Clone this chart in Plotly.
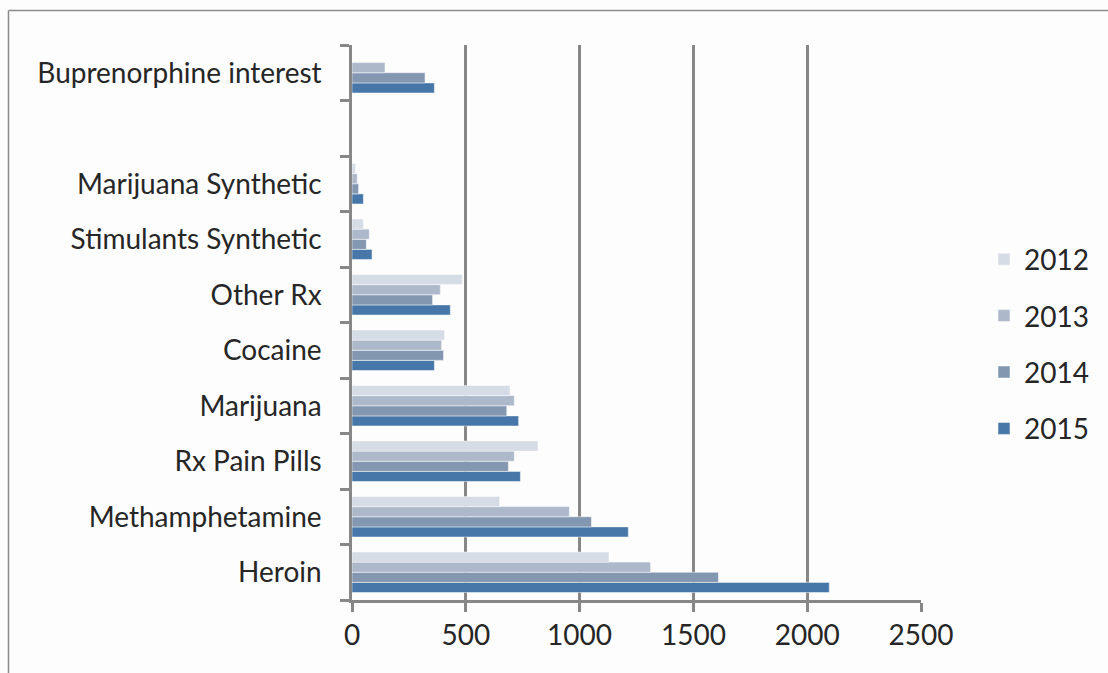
import plotly.graph_objects as go

# Drug categories, bottom to top; the blank entry keeps an empty slot
categories = ["Heroin", "Methamphetamine", "Rx Pain Pills", "Marijuana", "Cocaine",
              "Other Rx", "Stimulants Synthetic", "Marijuana Synthetic", " ",
              "Buprenorphine interest"]

v2012 = [1129, 649, 817, 694, 407, 485, 50, 15, None, 0]
v2013 = [1312, 955, 713, 713, 394, 388, 76, 23, None, 145]
v2014 = [1610, 1052, 687, 680, 402, 354, 63, 29, None, 321]
v2015 = [2097, 1214, 740, 732, 362, 432, 88, 50, None, 362]

years = ["2012", "2013", "2014", "2015"]
colors = {"2012": "#D6DCE5", "2013": "#ADB9CA", "2014": "#8497B0", "2015": "#4677A8"}
series = {"2012": v2012, "2013": v2013, "2014": v2014, "2015": v2015}

x_ticks = [0, 500, 1000, 1500, 2000, 2500]

FONT = "Lato"
FSIZE = 28
TEXT = "#262626"
GRID = "#878787"

fig = go.Figure()
# 2015 first so it sits at the bottom of each group; legendrank keeps 2012 on top of the legend
for yr in reversed(years):
    fig.add_trace(go.Bar(
        y=categories, x=series[yr], name=yr, orientation="h",
        marker=dict(color=colors[yr], line=dict(color="rgba(255,255,255,0.6)", width=0.8)),
        legendgroup=yr, legendrank=1000 + years.index(yr),
    ))

L, R, T, B = 352, 187, 45, 73
W, H = 1108, 673
pw, ph = W - L - R, H - T - B

def px_x(p):
    return (p - L) / pw

def px_y(p):
    return (H - B - p) / ph

fig.update_layout(
    width=W, height=H,
    margin=dict(l=L, r=R, t=T, b=B),
    paper_bgcolor="#FDFDFD", plot_bgcolor="#FDFDFD",
    barmode="group", bargap=0.27, bargroupgap=0,
    font=dict(family=FONT, size=FSIZE, color=TEXT),
    showlegend=True,
    legend=dict(
        x=px_x(984), y=px_y(344), xanchor="left", yanchor="middle",
        traceorder="grouped", tracegroupgap=17,
        font=dict(family=FONT, size=FSIZE, color=TEXT),
        bgcolor="rgba(0,0,0,0)",
    ),
    xaxis=dict(
        range=[0, 2500], tickvals=x_ticks, ticktext=[str(v) for v in x_ticks],
        showgrid=True, gridcolor=GRID, gridwidth=2.5,
        showline=True, linecolor=GRID, linewidth=2.5,
        ticks="outside", ticklen=9, tickwidth=2.5, tickcolor=GRID,
        zeroline=False, fixedrange=True,
    ),
    yaxis=dict(
        type="category", categoryorder="array", categoryarray=categories,
        range=[-0.5, len(categories) - 0.5],
        tickson="boundaries", ticks="outside", ticklen=9, tickwidth=2.5, tickcolor=GRID,
        showline=True, linecolor=GRID, linewidth=2.5,
        showgrid=False, zeroline=False, ticklabelstandoff=22,
    ),
    shapes=[
        dict(type="line", xref="paper", yref="paper",
             x0=px_x(8.5), x1=px_x(1120), y0=px_y(10.5), y1=px_y(10.5),
             line=dict(color="#8C8C8C", width=1.5)),
        dict(type="line", xref="paper", yref="paper",
             x0=px_x(8.5), x1=px_x(8.5), y0=px_y(10.5), y1=px_y(690),
             line=dict(color="#8C8C8C", width=1.5)),
    ],
)

fig.write_html("out.html")
